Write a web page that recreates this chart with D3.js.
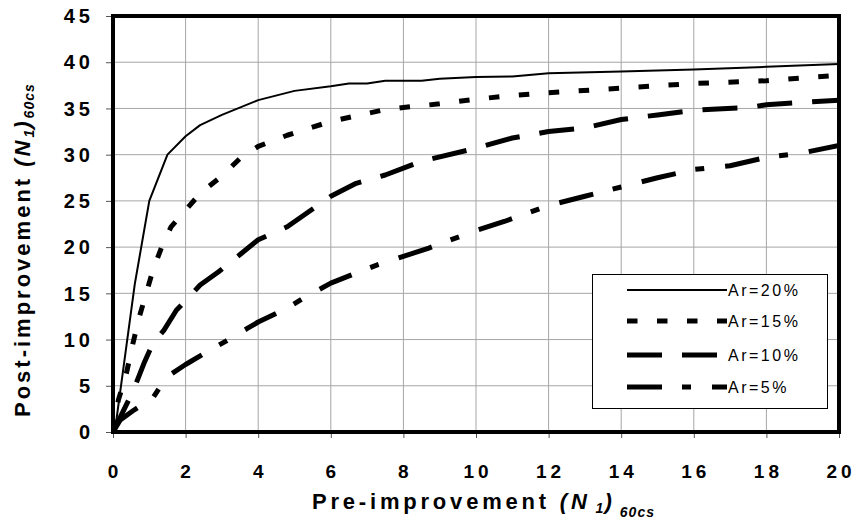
<!DOCTYPE html>
<html><head><meta charset="utf-8">
<script src="https://cdn.jsdelivr.net/npm/d3@7"></script>
<style>
body{margin:0;background:#fff;}
svg{display:block;font-family:"Liberation Sans",Arial,sans-serif;}
</style></head>
<body><svg id="c" width="857" height="522"></svg>
<script>
// ---- data ----
const xTicks = [0,2,4,6,8,10,12,14,16,18,20];
const yTicks = [0,5,10,15,20,25,30,35,40,45];
const seriesNames = ["Ar=20%","Ar=15%","Ar=10%","Ar=5%"];

const ar20X = [0,0.1,0.6,1.0,1.5,2.0,2.4,3.0,4.0,5.0,6.0,6.5,7.0,7.5,8.5,9.0,10.0,11.0,12.0,14.0,16.0,18.0,20.0];
const ar20Y = [0,1.5,16,25,30,32,33.2,34.3,35.9,36.9,37.4,37.7,37.7,38.0,38.0,38.2,38.4,38.45,38.8,39.0,39.2,39.5,39.8];

const ar15X = [0,0.15,0.35,0.55,0.72,0.9,1.1,1.35,1.6,2.0,2.4,3.0,3.5,4.0,4.8,6.0,7.4,8.0,9.0,10.0,11.0,12.0,14.0,16.0,18.0,20.0];
const ar15Y = [0,3.5,6.0,9.6,12.4,14.8,17.5,20.1,22.2,24.0,25.8,27.7,29.6,30.9,32.1,33.6,34.8,35.1,35.5,36.0,36.4,36.7,37.2,37.7,38.0,38.6];

const ar10X = [0,0.56,0.85,1.1,1.4,1.75,2.0,2.4,2.9,3.5,4.0,4.8,6.0,6.7,7.5,8.5,10.0,11.0,12.0,13.0,14.0,15.0,16.0,17.5,18.0,20.0];
const ar10Y = [0,4.5,7.4,9.6,11.0,13.2,14.2,15.9,17.3,19.2,20.8,22.2,25.5,26.9,27.8,29.3,30.7,31.8,32.5,32.9,33.8,34.3,34.8,35.1,35.4,35.9];

const ar5X = [0,0.2,0.55,1.1,1.3,1.5,2.0,2.6,3.1,3.7,4.0,4.8,5.3,6.0,6.7,7.3,8.0,8.7,10.0,10.8,12.0,13.0,14.0,15.0,16.0,17.0,18.0,19.0,20.0];
const ar5Y = [0,1.3,2.3,3.7,4.9,6.0,7.3,8.7,9.8,11.2,11.9,13.4,14.6,16.1,17.2,18.1,19.0,19.9,21.8,22.8,24.5,25.5,26.5,27.5,28.4,28.8,29.7,30.2,31.0];

// ---- styles ----
const styles = [
  {w:2, dash:null},
  {w:5, dash:"10.5,19.5"},
  {w:5, dash:"35,20"},
  {w:5, dash:"35,20,9,21"}
];

const svg = d3.select("#c");
const L=113, R=839, T=16, B=432;
const x = d3.scaleLinear().domain([0,20]).range([L,R]);
const y = d3.scaleLinear().domain([0,45]).range([B,T]);

// grid
svg.append("g").selectAll("line").data(xTicks.slice(1,-1)).join("line")
  .attr("x1",d=>x(d)).attr("x2",d=>x(d)).attr("y1",T).attr("y2",B)
  .attr("stroke","#a6a6a6").attr("stroke-width",1);
svg.append("g").selectAll("line").data(yTicks.slice(1,-1)).join("line")
  .attr("y1",d=>y(d)).attr("y2",d=>y(d)).attr("x1",L).attr("x2",R)
  .attr("stroke","#a6a6a6").attr("stroke-width",1);

// axes (ticks only, labels custom)
const xAxis = d3.axisBottom(x).tickValues(xTicks).tickSize(6).tickFormat("");
const yAxis = d3.axisLeft(y).tickValues(yTicks).tickSize(7).tickFormat("");
const gx = svg.append("g").attr("transform",`translate(0,${B})`).call(xAxis);
const gy = svg.append("g").attr("transform",`translate(${L},0)`).call(yAxis);
[gx,gy].forEach(g=>{g.select(".domain").remove(); g.selectAll("line").attr("stroke","#555");});

// tick labels
const ls = 4;
svg.append("g").selectAll("text").data(yTicks).join("text")
  .attr("x",90+ls).attr("y",d=>y(d)).attr("dy","0.36em")
  .attr("text-anchor","end").attr("font-size",20).attr("font-weight","bold")
  .attr("letter-spacing",ls).text(d=>d);
svg.append("g").selectAll("text").data(xTicks).join("text")
  .attr("x",d=>x(d)+ls/2).attr("y",478)
  .attr("text-anchor","middle").attr("font-size",19).attr("font-weight","bold")
  .attr("letter-spacing",ls).text(d=>d);

// series
const allX=[ar20X,ar15X,ar10X,ar5X], allY=[ar20Y,ar15Y,ar10Y,ar5Y];
const line = d3.line().x(d=>x(d[0])).y(d=>y(d[1]));
svg.append("clipPath").attr("id","pc").append("rect")
  .attr("x",L).attr("y",T).attr("width",R-L).attr("height",B-T);
const gs = svg.append("g").attr("clip-path","url(#pc)");
allX.forEach((xs,i)=>{
  const pts = xs.map((v,j)=>[v,allY[i][j]]);
  gs.append("path").attr("d",line(pts)).attr("fill","none")
    .attr("stroke","#000").attr("stroke-width",styles[i].w)
    .attr("stroke-dasharray",styles[i].dash)
    .attr("stroke-linejoin","round");
});

// plot border
svg.append("rect").attr("x",L).attr("y",T).attr("width",R-L).attr("height",B-T)
  .attr("fill","none").attr("stroke","#000").attr("stroke-width",4);

// legend
const lg = svg.append("g");
lg.append("rect").attr("x",592.5).attr("y",274.5).attr("width",235).attr("height",134)
  .attr("fill","#fff").attr("stroke","#000").attr("stroke-width",1);
const rowsY=[290,321,355,387];
seriesNames.forEach((n,i)=>{
  lg.append("line").attr("x1",627).attr("x2",i===2?717:727).attr("y1",rowsY[i]).attr("y2",rowsY[i])
    .attr("stroke","#000").attr("stroke-width",styles[i].w).attr("stroke-dasharray",styles[i].dash);
  lg.append("text").attr("x",728).attr("y",rowsY[i]).attr("dy","0.36em")
    .attr("font-size",16).attr("letter-spacing",2.5).text(n);
});

// axis titles
const yt = svg.append("text").attr("transform","translate(30,417) rotate(-90)")
  .attr("font-size",22).attr("font-weight","bold").attr("letter-spacing",3);
yt.append("tspan").text("Post-improvement ");
yt.append("tspan").attr("font-style","italic").text("(N");
yt.append("tspan").attr("font-style","italic").attr("font-size",14).attr("dy",4).attr("letter-spacing",1).text("1");
yt.append("tspan").attr("font-style","italic").attr("dy",-4).text(")");
yt.append("tspan").attr("font-style","italic").attr("font-size",14).attr("dy",4).attr("letter-spacing",1).text("60cs");

const xt = svg.append("text").attr("x",312).attr("y",509)
  .attr("font-size",22).attr("font-weight","bold").attr("letter-spacing",3.8);
xt.append("tspan").text("Pre-improvement ");
xt.append("tspan").attr("font-style","italic").text("(N");
xt.append("tspan").attr("font-style","italic").attr("font-size",14).attr("dy",4).attr("letter-spacing",1).text(" 1");
xt.append("tspan").attr("font-style","italic").attr("dy",-4).attr("letter-spacing",1).text(") ");
xt.append("tspan").attr("font-style","italic").attr("font-size",14).attr("dy",8).attr("letter-spacing",1).text("60cs");
</script></body></html>
